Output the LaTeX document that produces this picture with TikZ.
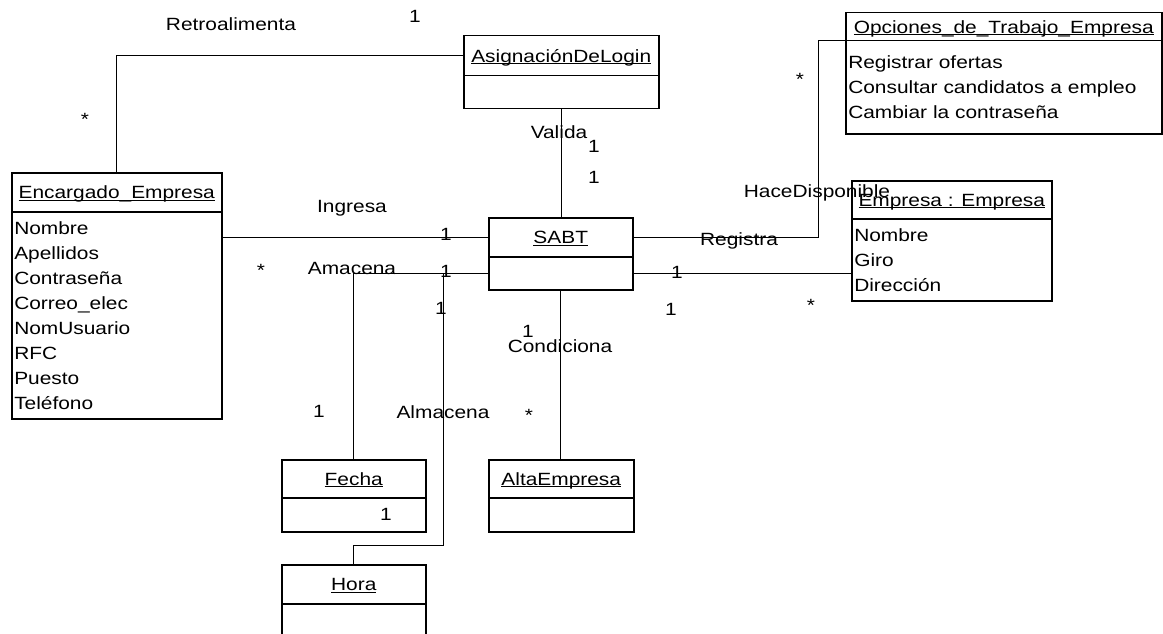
\documentclass[tikz,border=0pt]{standalone}
\usepackage{fontspec}
\setmainfont[FakeStretch=1.18]{Liberation Sans}
\newcommand{\clsname}[1]{\leavevmode\setbox0\hbox{#1}\rlap{\rule[-2.2pt]{\wd0}{1.1pt}}\box0}

\begin{document}
\begin{tikzpicture}[x=1pt,y=-1pt,
  font=\fontsize{17.7pt}{25pt}\selectfont,
  head/.style={draw,line width=1.5pt,anchor=north west,inner sep=0pt,text height=12.7pt,text depth=0pt},
  body/.style={draw,line width=1.5pt,anchor=north west,inner xsep=2.5pt,inner ysep=0pt,align=left},
  lbl/.style={anchor=base,inner sep=0pt},
  assoc/.style={line width=1pt}]
\useasboundingbox (0,0) rectangle (1163,634);
% clases
\node[head,minimum width=210pt,minimum height=39pt](encH)at(11,172){\clsname{Encargado\_Empresa}};
\node[body,text width=205pt,minimum height=207pt](encB)at(11,211){Nombre\\Apellidos\\Contraseña\\Correo\_elec\\NomUsuario\\RFC\\Puesto\\Teléfono};
\node[head,minimum width=195pt,minimum height=40pt](asigH)at(463,35){\clsname{AsignaciónDeLogin}};
\node[body,minimum width=195pt,minimum height=33pt](asigB)at(463,75){};
\node[head,minimum width=316pt,minimum height=28pt](opcH)at(845,12){\clsname{Opciones\_de\_Trabajo\_Empresa}};
\node[body,text width=311pt,minimum height=93pt](opcB)at(845,40){Registrar ofertas\\Consultar candidatos a empleo\\Cambiar la contraseña};
\node[head,minimum width=144pt,minimum height=39pt](sabtH)at(488,217){\clsname{SABT}};
\node[body,minimum width=144pt,minimum height=33pt](sabtB)at(488,256){};
\node[head,minimum width=200pt,minimum height=38pt](empH)at(851,180){\clsname{Empresa : Empresa}};
\node[body,text width=195pt,minimum height=82pt](empB)at(851,218){Nombre\\Giro\\Dirección};
\node[head,minimum width=144pt,minimum height=38pt](fechaH)at(281,459){\clsname{Fecha}};
\node[body,minimum width=144pt,minimum height=34pt](fechaB)at(281,497){};
\node[head,minimum width=145pt,minimum height=38pt](altaH)at(488,459){\clsname{AltaEmpresa}};
\node[body,minimum width=145pt,minimum height=34pt](altaB)at(488,497){};
\node[head,minimum width=144pt,minimum height=39pt](horaH)at(281,564){\clsname{Hora}};
\node[body,minimum width=144pt,minimum height=45pt](horaB)at(281,603){};
% asociaciones
\coordinate(hdBend)at(818,41);
\coordinate(almBend)at(443,545);
\draw[assoc](encH.north) |- (asigH.west);
\draw[assoc](asigB.south) -- (asigB.south |- sabtH.north);
\draw[assoc](sabtH.west) -- (sabtH.west -| encB.east);
\draw[assoc](sabtH.east) -| (hdBend) -- (hdBend -| opcB.west);
\draw[assoc](sabtB.east) -- (sabtB.east -| empB.west);
\draw[assoc](sabtB.west) -| (fechaH.north);
\draw[assoc](sabtB.west) -| (almBend) -| (horaH.north);
\draw[assoc](sabtB.south) -- (sabtB.south |- altaH.north);
% etiquetas
\node[lbl](lRetro)at(231,31){Retroalimenta};
\node[lbl](mRetroA)at(415,23){1};
\node[lbl](mRetroB)at(85,125){*};
\node[lbl](lValida)at(559,139){Valida};
\node[lbl](mValidaA)at(594,153){1};
\node[lbl](mValidaB)at(594,183){1};
\node[lbl](lIngresa)at(352,212){Ingresa};
\node[lbl](mIngresa)at(446,240){1};
\node[lbl](mAmacenaA)at(261,276){*};
\node[lbl](lAmacena)at(352,274){Amacena};
\node[lbl](mAmacenaB)at(446,277){1};
\node[lbl](mAlmacenaA)at(441,314){1};
\node[lbl](mCondA)at(528,337){1};
\node[lbl](lCond)at(560,352){Condiciona};
\node[lbl](mCondB)at(529,421){*};
\node[lbl](lAlmacena)at(443,418){Almacena};
\node[lbl](mFechaA)at(319,417){1};
\node[lbl](mFechaB)at(386,520){1};
\node[lbl](lHace)at(817,197){HaceDisponible};
\node[lbl](lRegistra)at(739,245){Registra};
\node[lbl](mEmpA)at(677,278){1};
\node[lbl](mEmpB)at(671,315){1};
\node[lbl](mEmpC)at(811,311){*};
\node[lbl](mHace)at(800,85){*};
\end{tikzpicture}
\end{document}
